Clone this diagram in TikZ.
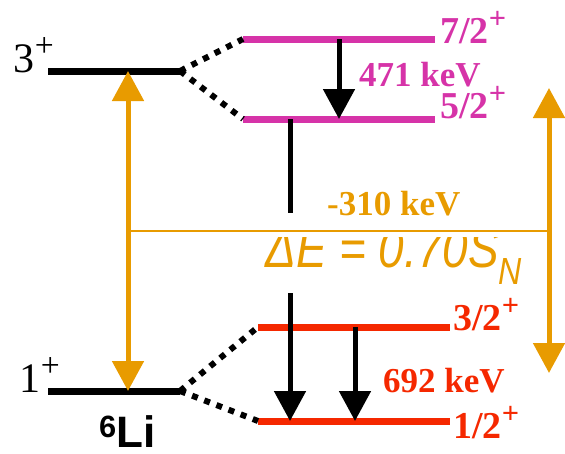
\documentclass[tikz,border=0pt]{standalone}
\usepackage{fontspec}
\setmainfont{Liberation Serif}
\setsansfont{Liberation Sans}
\usetikzlibrary{arrows.meta}
\definecolor{lvmag}{HTML}{D633A8}
\definecolor{lvred}{HTML}{F52800}
\definecolor{lvorg}{HTML}{E89B00}
\newcommand\parup{\raisebox{.38em}{\scalebox{.8}{+}}}
\begin{document}
\begin{tikzpicture}[x=1pt, y=-1pt,
  level/.style={line width=7pt},
  split/.style={line width=6pt, dash pattern=on 6pt off 7pt},
  gamma/.style={line width=5pt, -{Triangle[width=31pt,length=30pt]}},
  gap/.style={line width=5pt, {Triangle[width=31pt,length=30pt]}-{Triangle[width=31pt,length=30pt]}},
  spin/.style={font=\fontsize{38}{38}\selectfont\bfseries, inner sep=0pt},
  ener/.style={font=\fontsize{35}{35}\selectfont\bfseries, inner sep=0pt}]
\useasboundingbox (0,0) rectangle (565,453);
% levels
\coordinate (p3l) at (48,71);   \coordinate (p3r) at (180,71);
\coordinate (p1l) at (48,391);  \coordinate (p1r) at (180,391);
\coordinate (m7l) at (243,39);  \coordinate (m7r) at (435,39);
\coordinate (m5l) at (243,119); \coordinate (m5r) at (435,119);
\coordinate (r3l) at (258,327); \coordinate (r3r) at (450,327);
\coordinate (r1l) at (258,421); \coordinate (r1r) at (450,421);
\draw[level] (p3l) -- (p3r);
\draw[level] (p1l) -- (p1r);
\draw[level, lvmag] (m7l) -- (m7r);
\draw[level, lvmag] (m5l) -- (m5r);
\draw[level, lvred] (r3l) -- (r3r);
\draw[level, lvred] (r1l) -- (r1r);
\draw[split] (p3r) -- (m7l);
\draw[split] (p3r) -- (m5l);
\draw[split] (p1r) -- (r3l);
\draw[split] (p1r) -- (r1l);
% labels
\node[anchor=base east, inner sep=0pt, font=\fontsize{42}{42}\selectfont] (t3) at (54,72) {3\parup};
\node[anchor=base east, inner sep=0pt, font=\fontsize{42}{42}\selectfont] (t1) at (60,392) {1\parup};
\node[anchor=base west, inner sep=0pt, font=\sffamily\bfseries\fontsize{44}{44}\selectfont] (li) at (99,447) {\textsuperscript{6}Li};
\node[spin, lvmag, anchor=base west] (s7) at (440,43) {7/2\parup};
\node[spin, lvmag, anchor=base west] (s5) at (440,118) {5/2\parup};
\node[spin, lvred, anchor=base west] (s3) at (453,330) {3/2\parup};
\node[spin, lvred, anchor=base west] (s1) at (453,438) {1/2\parup};
\node[ener, lvmag, anchor=base west] (e471) at (359,86) {471 keV};
\node[ener, lvred, anchor=base west] (e692) at (383,392) {692 keV};
\node[ener, lvorg, anchor=base west] (e310) at (327,215) {-310 keV};
% gamma rays
\coordinate (g1a) at (339,39);  \coordinate (g1b) at (339,119);
\coordinate (g2a) at (290,119); \coordinate (g2b) at (290,213);
\coordinate (g2c) at (290,293); \coordinate (g2d) at (290,421);
\coordinate (g3a) at (355,327); \coordinate (g3b) at (355,421);
\draw[gamma] (g1a) -- (g1b);
\draw[line width=5pt] (g2a) -- (g2b);
\draw[gamma] (g2c) -- (g2d);
\draw[gamma] (g3a) -- (g3b);
% energy gaps
\coordinate (d1a) at (128,71);  \coordinate (d1b) at (128,391);
\coordinate (d2a) at (549,88);  \coordinate (d2b) at (549,373);
\coordinate (hl) at (128,231);  \coordinate (hr) at (549,231);
\draw[gap, lvorg] (d1a) -- (d1b);
\draw[gap, lvorg] (d2a) -- (d2b);
\draw[lvorg, line width=1.5pt] (hl) -- (hr);
\begin{scope}
\clip (200,237) rectangle (540,300);
\node[anchor=base west, inner sep=0pt, lvorg, font=\sffamily\itshape\fontsize{54}{54}\selectfont] (de) at (265,267) {\scalebox{.85}[1]{ΔE = 0.70S\textsubscript{N}}};
\end{scope}
\end{tikzpicture}
\end{document}
